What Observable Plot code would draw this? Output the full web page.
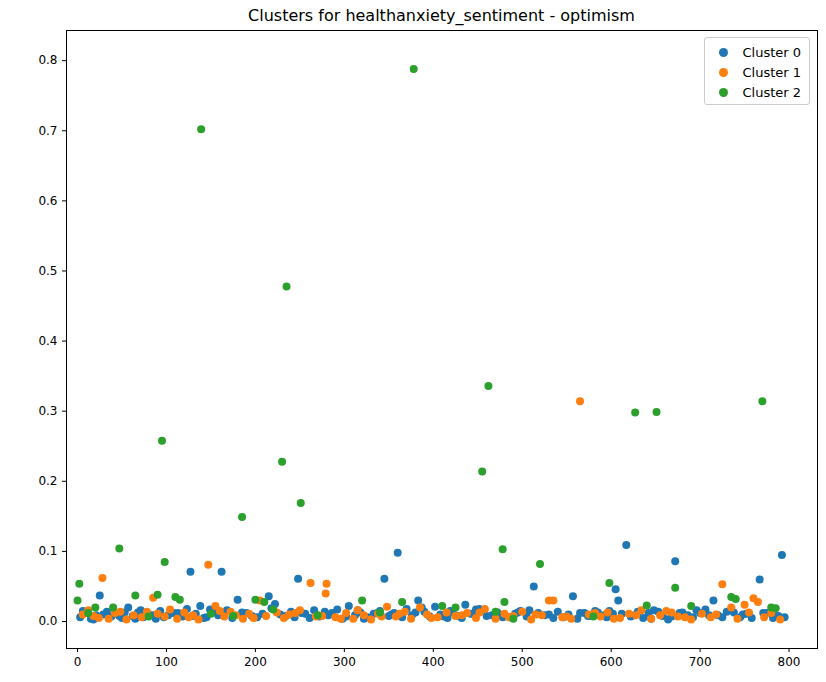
<!DOCTYPE html>
<html>
<head>
<meta charset="utf-8">
<script src="https://cdn.jsdelivr.net/npm/d3@7"></script>
<script src="https://cdn.jsdelivr.net/npm/@observablehq/plot@0.6"></script>
<style>
body { margin: 0; background: #fff; font-family: "DejaVu Sans", sans-serif; }
#wrap { position: relative; width: 826px; height: 682px; }
#title { position: absolute; top: 6px; left: 66px; width: 751px; text-align: center; font-size: 16px; color: #000; }
#legend { position: absolute; top: 37px; right: 16px; border: 1px solid #ccc; border-radius: 3px; background: rgba(255,255,255,0.8); padding: 4px 8px 2px 8px; font-size: 13px; }
#legend div { display: flex; align-items: center; height: 20px; }
#legend span.dot { width: 9px; height: 9px; border-radius: 50%; display: inline-block; margin: 0 14px 0 6px; }
</style>
</head>
<body>
<div id="wrap">
  <div id="title">Clusters for healthanxiety_sentiment - optimism</div>
  <div id="chart"></div>
  <div id="legend"></div>
</div>
<script>
const clusterNames = ["Cluster 0", "Cluster 1", "Cluster 2"];
const clusterColors = ["#1f77b4", "#ff7f0e", "#2ca02c"];

// Cluster 0 (blue)
const blueX = [3,9,15,21,25,33,38,44,50,57,62,68,74,80,88,93,102,108,118,123,127,133,138,145,152,158,162,168,174,180,190,196,215,222,228,240,244,248,256,266,272,286,292,298,305,312,318,326,333,340,345,350,356,360,370,376,383,390,396,402,408,416,422,428,436,442,448,466,472,486,492,498,505,513,518,525,540,546,552,557,562,570,578,585,592,598,605,608,612,617,622,630,636,642,648,658,664,672,680,686,692,700,706,715,720,730,745,752,767,775,782,788,792,795,
  6,18,29,47,53,65,71,85,97,113,130,142,149,165,185,202,208,218,234,252,261,278,282,302,315,322,337,353,365,380,387,412,419,432,445,452,460,478,495,508,530,535,565,574,582,595,602,626,645,653,668,677,696,710,725,738,748,758,771,785];
const blueY = [0.006,0.012,0.004,0.009,0.037,0.014,0.007,0.011,0.005,0.02,0.008,0.013,0.006,0.01,0.004,0.015,0.009,0.012,0.007,0.018,0.071,0.011,0.022,0.006,0.014,0.009,0.071,0.016,0.005,0.031,0.012,0.008,0.036,0.025,0.01,0.014,0.006,0.061,0.011,0.016,0.007,0.012,0.017,0.004,0.022,0.009,0.013,0.006,0.011,0.015,0.061,0.008,0.012,0.098,0.018,0.009,0.03,0.014,0.007,0.021,0.01,0.005,0.013,0.008,0.024,0.011,0.017,0.009,0.013,0.006,0.011,0.015,0.007,0.05,0.012,0.009,0.014,0.006,0.01,0.036,0.004,0.012,0.008,0.013,0.009,0.015,0.046,0.03,0.011,0.109,0.007,0.014,0.005,0.012,0.016,0.008,0.003,0.086,0.013,0.009,0.006,0.012,0.017,0.03,0.009,0.014,0.006,0.011,0.06,0.012,0.005,0.008,0.095,0.006,
  0.015,0.003,0.01,0.008,0.013,0.004,0.016,0.009,0.006,0.012,0.008,0.005,0.017,0.01,0.013,0.006,0.011,0.019,0.008,0.012,0.005,0.014,0.009,0.007,0.016,0.004,0.012,0.01,0.006,0.013,0.02,0.007,0.015,0.005,0.011,0.018,0.008,0.006,0.013,0.016,0.01,0.005,0.012,0.008,0.015,0.006,0.011,0.009,0.004,0.014,0.007,0.012,0.016,0.009,0.006,0.013,0.01,0.005,0.012,0.008];

// Cluster 1 (orange)
const orangeX = [6,12,18,28,35,42,55,63,72,78,85,98,104,112,120,130,136,147,155,165,172,186,193,205,212,224,232,238,250,262,268,279,280,290,302,310,322,330,338,348,358,368,375,385,393,405,415,425,438,448,458,470,480,490,500,510,522,530,535,545,555,565,575,588,596,610,620,634,645,655,668,675,690,702,712,725,735,742,750,760,765,772,780,790,
  24,48,90,125,160,178,198,245,275,296,315,342,362,398,432,452,485,515,550,582,603,628,662,683,718,755];
const orangeY = [0.01,0.016,0.008,0.062,0.004,0.012,0.003,0.009,0.006,0.014,0.034,0.007,0.017,0.004,0.013,0.009,0.003,0.081,0.022,0.007,0.014,0.004,0.011,0.03,0.008,0.013,0.005,0.01,0.016,0.055,0.007,0.04,0.054,0.006,0.012,0.004,0.009,0.003,0.011,0.021,0.007,0.014,0.004,0.02,0.01,0.006,0.013,0.008,0.012,0.005,0.018,0.004,0.011,0.008,0.014,0.003,0.009,0.03,0.03,0.006,0.004,0.314,0.01,0.007,0.013,0.005,0.011,0.016,0.004,0.009,0.013,0.007,0.003,0.011,0.006,0.053,0.02,0.004,0.024,0.033,0.028,0.006,0.012,0.003,
  0.005,0.014,0.011,0.006,0.015,0.009,0.005,0.012,0.008,0.004,0.016,0.007,0.011,0.005,0.009,0.013,0.006,0.01,0.007,0.012,0.004,0.009,0.015,0.006,0.01,0.013];

// Cluster 2 (green)
const greenX = [0,2,12,20,40,47,65,80,90,95,98,110,115,139,150,175,185,200,210,220,230,235,251,270,320,340,365,378,410,425,455,462,470,478,480,490,520,580,598,627,640,651,672,690,735,740,770,780,785];
const greenY = [0.03,0.054,0.012,0.02,0.02,0.104,0.037,0.007,0.038,0.258,0.085,0.035,0.031,0.702,0.011,0.008,0.149,0.031,0.028,0.017,0.228,0.478,0.169,0.009,0.03,0.013,0.028,0.788,0.022,0.02,0.214,0.336,0.014,0.103,0.028,0.004,0.082,0.007,0.055,0.298,0.023,0.299,0.048,0.022,0.035,0.032,0.314,0.02,0.019];

const points = [
  ...blueX.map((x, i) => ({x, y: blueY[i], c: 0})),
  ...orangeX.map((x, i) => ({x, y: orangeY[i], c: 1})),
  ...greenX.map((x, i) => ({x, y: greenY[i], c: 2}))
];

const chart = Plot.plot({
  width: 826,
  height: 682,
  marginTop: 30,
  marginBottom: 34,
  marginLeft: 66,
  marginRight: 9,
  style: {fontSize: "12px", fontFamily: "DejaVu Sans", color: "#000"},
  x: {domain: [-12.4, 832], ticks: [0,100,200,300,400,500,600,700,800], label: null, tickSize: 4},
  y: {domain: [-0.0385, 0.843], ticks: [0,0.1,0.2,0.3,0.4,0.5,0.6,0.7,0.8], tickFormat: ".1f", label: null, tickSize: 4},
  marks: [
    Plot.dot(points, {x: "x", y: "y", r: 4, fill: d => clusterColors[d.c], stroke: null}),
    Plot.frame({stroke: "#000"})
  ]
});
document.getElementById("chart").append(chart);

const legend = d3.select("#legend");
clusterNames.forEach((n, i) => {
  const row = legend.append("div");
  row.append("span").attr("class", "dot").style("background", clusterColors[i]);
  row.append("span").text(n);
});
</script>
</body>
</html>
